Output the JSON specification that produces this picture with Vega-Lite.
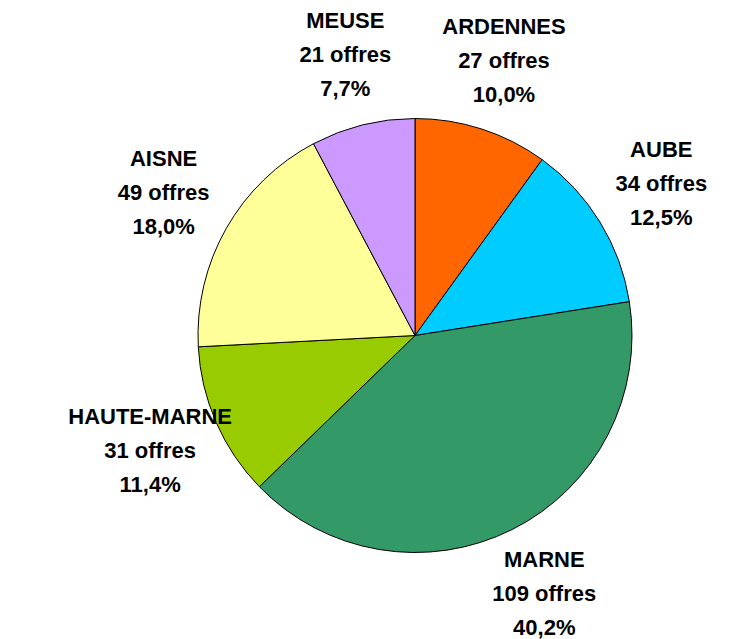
{
  "$schema": "https://vega.github.io/schema/vega-lite/v6.json",
  "width": 642,
  "height": 607,
  "autosize": "none",
  "padding": {"left": 94, "top": 32, "right": 0, "bottom": 0},
  "background": "white",
  "data": {
    "values": [
      {"i": 1, "dept": "ARDENNES", "offres": 27, "label": "ARDENNES\n27 offres\n10,0%"},
      {"i": 2, "dept": "AUBE", "offres": 34, "label": "AUBE\n34 offres\n12,5%"},
      {"i": 3, "dept": "MARNE", "offres": 109, "label": "MARNE\n109 offres\n40,2%"},
      {"i": 4, "dept": "HAUTE-MARNE", "offres": 31, "label": "HAUTE-MARNE\n31 offres\n11,4%"},
      {"i": 5, "dept": "AISNE", "offres": 49, "label": "AISNE\n49 offres\n18,0%"},
      {"i": 6, "dept": "MEUSE", "offres": 21, "label": "MEUSE\n21 offres\n7,7%"}
    ]
  },
  "encoding": {
    "theta": {"field": "offres", "type": "quantitative", "stack": true},
    "order": {"field": "i", "type": "quantitative"}
  },
  "layer": [
    {
      "mark": {"type": "arc", "outerRadius": 217, "stroke": "#000000", "strokeWidth": 1},
      "encoding": {
        "color": {
          "field": "dept",
          "type": "nominal",
          "legend": null,
          "scale": {
            "domain": ["ARDENNES", "AUBE", "MARNE", "HAUTE-MARNE", "AISNE", "MEUSE"],
            "range": ["#FF6600", "#00CCFF", "#339966", "#99CC00", "#FFFF99", "#CC99FF"]
          }
        }
      }
    },
    {
      "mark": {
        "type": "text",
        "radius": 289,
        "dy": -34,
        "font": "Liberation Sans",
        "fontWeight": "bold",
        "fontSize": 22,
        "lineBreak": "\n",
        "lineHeight": 34,
        "align": "center",
        "baseline": "middle",
        "color": "#000000"
      },
      "encoding": {
        "text": {"field": "label", "type": "nominal"}
      }
    }
  ]
}
